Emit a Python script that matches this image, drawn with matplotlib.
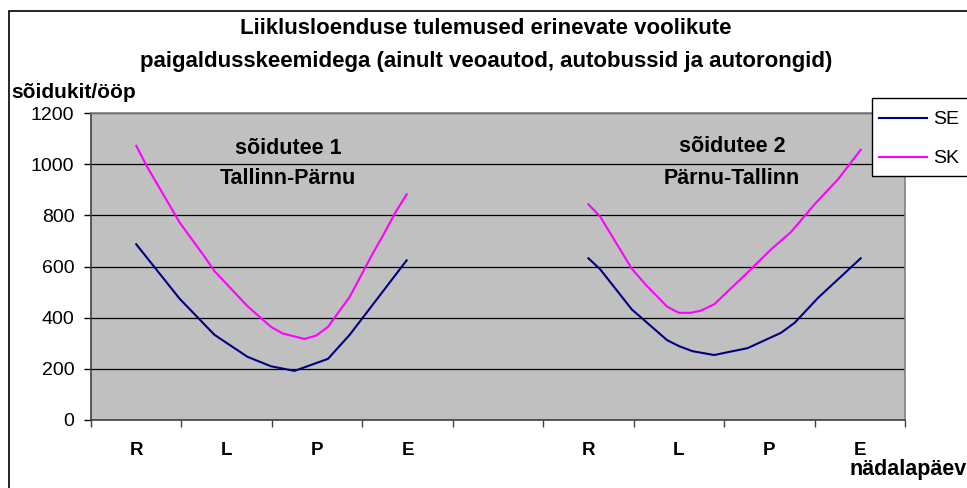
import numpy as np
import matplotlib
matplotlib.use("Agg")
import matplotlib.pyplot as plt
from matplotlib.patches import Rectangle

plt.rcParams['font.family'] = ['Liberation Sans', 'DejaVu Sans']

# category axis: two weeks of counts separated by a blank slot
day_labels = ['R', 'L', 'P', 'E', '', 'R', 'L', 'P', 'E']

# sõidutee 1 (Tallinn-Pärnu)
x1_se = [0.0, 0.48, 0.865, 1.23, 1.49, 1.75, 2.12, 2.36, 2.99]
y1_se = [687, 474, 333, 247, 210, 192, 239, 333, 624]
x1_sk = [0.0, 0.125, 0.48, 0.75, 0.865, 1.23, 1.49, 1.62, 1.86, 1.99, 2.12, 2.36, 2.62, 2.73, 2.86, 2.99]
y1_sk = [1072, 987, 772, 641, 582, 445, 364, 338, 317, 330, 364, 481, 654, 722, 808, 882]

# sõidutee 2 (Pärnu-Tallinn)
x2_se = [5.0, 5.13, 5.48, 5.87, 6.0, 6.15, 6.39, 6.76, 7.13, 7.28, 7.54, 8.01]
y2_se = [632, 589, 432, 312, 289, 269, 254, 281, 341, 380, 478, 632]
x2_sk = [5.0, 5.13, 5.48, 5.63, 5.87, 6.0, 6.13, 6.24, 6.39, 6.72, 7.02, 7.24, 7.5, 7.76, 8.01]
y2_sk = [843, 795, 591, 530, 443, 419, 419, 427, 452, 563, 667, 735, 843, 941, 1056]

W, H = 967, 488
fig = plt.figure(figsize=(W / 100, H / 100), dpi=100)

def fx(px):
    return px / W

def fy(py):
    return 1 - py / H

# outer chart border (runs off the right and bottom edges like the original)
fig.patches.append(Rectangle((fx(9), fy(500)), fx(975) - fx(9), fy(11) - fy(500),
                             transform=fig.transFigure, fill=False, ec='black', lw=1.2))

ax = fig.add_axes([fx(91), fy(420), fx(905) - fx(91), fy(113) - fy(420)])
ax.set_facecolor('#C0C0C0')

se_col = '#000080'
sk_col = '#FF00FF'
ax.plot(x1_se, y1_se, color=se_col, lw=1.5, label='SE')
ax.plot(x1_sk, y1_sk, color=sk_col, lw=1.5, label='SK')
ax.plot(x2_se, y2_se, color=se_col, lw=1.5)
ax.plot(x2_sk, y2_sk, color=sk_col, lw=1.5)

ax.set_xlim(-0.5, 8.5)
ax.set_ylim(0, 1200)
ax.set_yticks(np.arange(0, 1201, 200))
ax.yaxis.grid(True, color='black', lw=0.9)
ax.set_axisbelow(True)
ax.tick_params(axis='y', direction='out', length=5, width=1, colors='black',
               labelsize=14, pad=7)

ax.set_xticks(np.arange(-0.5, 8.6, 1.0))
ax.set_xticklabels([])
ax.set_xticks(np.arange(len(day_labels)), minor=True)
ax.set_xticklabels(day_labels, minor=True, fontweight='bold', fontsize=13.5)
ax.tick_params(axis='x', which='major', direction='out', length=5, width=1, colors='#404040')
ax.tick_params(axis='x', which='minor', length=0, pad=16)

for s in ['left', 'bottom']:
    ax.spines[s].set_color('#404040')
    ax.spines[s].set_linewidth(1.2)
for s in ['top', 'right']:
    ax.spines[s].set_color('#808080')
    ax.spines[s].set_linewidth(1.2)

# road annotations
fig.text(fx(288), fy(148), 'sõidutee 1', ha='center', va='center', fontsize=15.5, fontweight='bold')
fig.text(fx(288), fy(179), 'Tallinn-Pärnu', ha='center', va='center', fontsize=15.5, fontweight='bold')
fig.text(fx(732), fy(147), 'sõidutee 2', ha='center', va='center', fontsize=15.5, fontweight='bold')
fig.text(fx(732), fy(178), 'Pärnu-Tallinn', ha='center', va='center', fontsize=15.5, fontweight='bold')

fig.text(fx(486), fy(29), 'Liiklusloenduse tulemused erinevate voolikute',
         ha='center', va='center', fontsize=16, fontweight='bold')
fig.text(fx(486), fy(61), 'paigaldusskeemidega (ainult veoautod, autobussid ja autorongid)',
         ha='center', va='center', fontsize=16, fontweight='bold')
fig.text(fx(11), fy(93), 'sõidukit/ööp', ha='left', va='center',
         fontsize=15, fontweight='bold')
fig.text(fx(967), fy(470), 'nädalapäev', ha='right', va='center',
         fontsize=15.5, fontweight='bold')

# legend box is cut by the right edge in the original
ax.add_patch(Rectangle((fx(872), fy(176)), fx(990) - fx(872), fy(98) - fy(176),
                       transform=fig.transFigure, fc='white', ec='black', lw=1.0,
                       clip_on=False, zorder=4))
leg = ax.legend(loc='upper left', bbox_to_anchor=(fx(872), fy(104)),
                bbox_transform=fig.transFigure, frameon=False, fontsize=14,
                handlelength=2.5, labelspacing=1.1, borderpad=0.35,
                handletextpad=0.3, borderaxespad=0)
leg.set_zorder(6)

fig.savefig('out.png', dpi=100)
